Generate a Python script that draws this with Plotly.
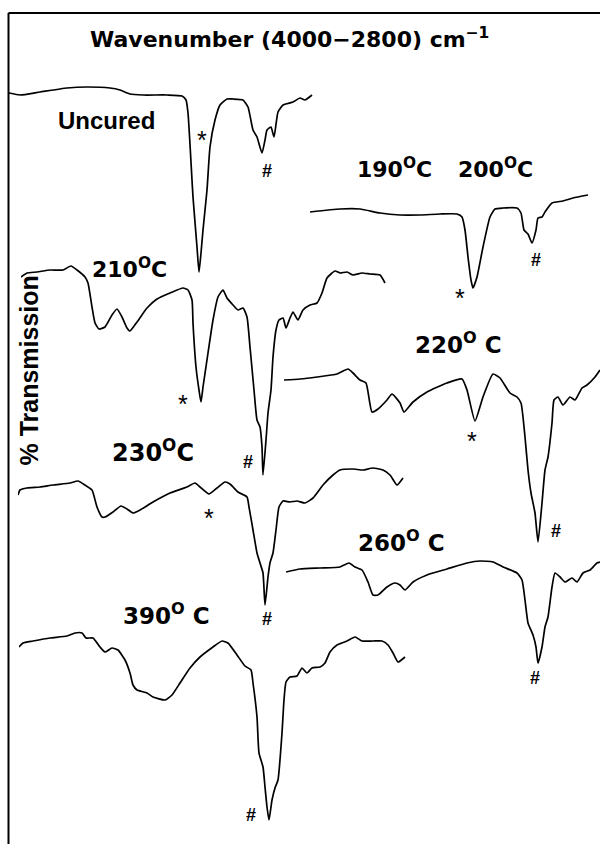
import plotly.graph_objects as go

W, H = 600, 844

# ---------------- data: wavenumber (cm-1) vs % transmission ----------------
uncured_wn = [4000, 3956, 3876, 3768, 3688, 3596, 3556, 3516, 3464, 3368, 3308, 3292, 3284, 3268,
              3264, 3248, 3240, 3232, 3224, 3208, 3196, 3176, 3156, 3128, 3104, 3064, 3044, 3024,
              3008, 2988, 2976, 2968, 2952, 2940, 2924, 2904, 2864, 2836, 2816, 2788]
uncured_t = [97.6, 96.8, 98, 99.6, 100, 99.6, 98.8, 97.2, 96.8, 96.8, 96.4, 94.8, 89.6, 62.8,
             56, 36, 26, 33.6, 42.8, 58.8, 76, 86.8, 92.8, 95.2, 95.2, 94.8, 92, 82.8,
             80, 73.6, 78.8, 82.8, 84, 80, 90, 92.8, 94, 95.6, 94.8, 96.8]

c190_wn = [4000, 3880, 3800, 3720, 3640, 3560, 3480, 3412, 3392, 3380, 3368, 3356, 3348, 3332,
           3308, 3280, 3260, 3228, 3172, 3156, 3144, 3128, 3112, 3096, 3088, 3072, 3060, 3032,
           2988, 2948, 2888]
c190_t = [93.2, 94.4, 94.4, 92.8, 92, 92, 92.4, 92.4, 91.2, 86, 75.2, 66, 62.8, 67.2,
          79.2, 91.2, 94.4, 94.8, 94.8, 92.8, 86, 84.4, 80.8, 86, 90.8, 91.2, 93.2, 96.8,
          97.6, 98.8, 100]

c210_wn = [4000, 3976, 3936, 3884, 3832, 3800, 3776, 3744, 3732, 3716, 3704, 3688, 3664, 3636,
           3616, 3596, 3576, 3564, 3536, 3496, 3456, 3404, 3352, 3332, 3316, 3312, 3300, 3288,
           3280, 3272, 3252, 3232, 3212, 3192, 3176, 3152, 3132, 3112, 3096, 3084, 3068, 3056,
           3044, 3036, 3032, 3020, 3012, 3000, 2992, 2980, 2968, 2952, 2940, 2924, 2912, 2892,
           2872, 2844, 2816, 2796, 2776, 2744, 2724, 2696, 2672, 2636, 2604, 2564, 2544]
c210_t = [95.6, 97.2, 97.6, 98.4, 98.4, 100, 98.4, 95.6, 93.2, 83.6, 77.2, 74.8, 75.6, 80.4,
          82.8, 79.6, 75.2, 74, 77.6, 83.2, 86.8, 89.2, 91.2, 90.4, 86.4, 77.2, 59.6, 50.4,
          45.6, 51.6, 65.2, 78.4, 87.6, 90.4, 87.2, 84.4, 82.4, 83.2, 79.6, 67.6, 50.4, 38.4,
          35.6, 27.6, 16.4, 30.4, 41.2, 50.4, 63.6, 74.4, 78.4, 79.2, 75.2, 79.2, 81.6, 78.4,
          82.4, 84.4, 85.2, 89.2, 95.2, 98, 97.2, 97.6, 96.4, 97.2, 96.8, 96.4, 93.2]

c220_wn = [4000, 3936, 3868, 3788, 3744, 3724, 3696, 3672, 3648, 3624, 3588, 3568, 3536, 3520,
           3484, 3428, 3348, 3288, 3268, 3236, 3204, 3164, 3136, 3096, 3068, 3052, 3036, 3024,
           3012, 2996, 2984, 2968, 2956, 2944, 2928, 2920, 2904, 2884, 2856, 2836, 2808, 2788,
           2756, 2736]
c220_t = [95.6, 96, 96.8, 98, 100, 98.4, 95.6, 94.4, 82.8, 84, 87.6, 90, 86.4, 82.8,
          86.8, 90.8, 94.4, 96, 91.6, 79.2, 88.8, 98, 96.4, 90.4, 88.8, 86.4, 72.8, 59.6,
          50.4, 42.4, 30.8, 46.4, 59.6, 64.8, 78.4, 87.6, 88.8, 85.6, 88.8, 87.6, 92.4, 93.6,
          96.8, 99.6]

c230_wn = [4000, 3992, 3964, 3912, 3860, 3792, 3760, 3732, 3704, 3684, 3664, 3652, 3620, 3588,
           3564, 3540, 3512, 3460, 3392, 3324, 3292, 3272, 3236, 3204, 3172, 3152, 3120, 3084,
           3076, 3060, 3044, 3032, 3020, 3012, 3000, 2992, 2980, 2968, 2956, 2940, 2912, 2884,
           2852, 2820, 2780, 2740, 2712, 2660, 2620, 2580, 2540, 2512, 2484, 2460]
c230_t = [89.2, 91.2, 92, 92.4, 93.2, 94, 94.8, 93.2, 91.2, 84.4, 80.4, 80.4, 82.4, 84.8,
          83.6, 82, 83.2, 86.4, 90, 92.4, 94, 92.4, 89.6, 92, 94.4, 93.6, 90.4, 88.4,
          84.4, 75.2, 66, 62, 58, 45.2, 56.4, 62, 66, 75.2, 84.4, 86.8, 86.4, 86.8,
          86, 88, 93.2, 97.2, 99.2, 99.6, 99.2, 100, 99.2, 97.2, 93.2, 96]

c260_wn = [4000, 3944, 3864, 3784, 3748, 3724, 3696, 3672, 3652, 3632, 3596, 3564, 3544, 3524,
           3492, 3436, 3356, 3276, 3224, 3172, 3132, 3076, 3056, 3044, 3032, 3012, 3000, 2992,
           2976, 2964, 2952, 2936, 2924, 2904, 2884, 2856, 2836, 2812, 2784, 2756, 2744]
c260_t = [95.6, 96.8, 97.2, 97.6, 99.2, 97.6, 96.4, 91.6, 86.4, 86.4, 89.6, 91.2, 90.4, 88.4,
          91.6, 94.4, 96.8, 99.2, 100, 99.6, 97.6, 95.2, 92.4, 84.4, 75.2, 70.4, 65.6, 59.2,
          65.6, 73.6, 77.6, 89.6, 95.2, 93.6, 91.6, 93.2, 91.6, 95.2, 96.4, 99.2, 99.6]

c390_wn = [4000, 3984, 3944, 3876, 3808, 3776, 3748, 3732, 3704, 3676, 3656, 3628, 3604, 3576,
           3556, 3544, 3528, 3488, 3464, 3416, 3388, 3356, 3316, 3276, 3224, 3188, 3164, 3128,
           3096, 3072, 3064, 3048, 3040, 3024, 3016, 3008, 3000, 2988, 2976, 2964, 2948, 2940,
           2932, 2916, 2888, 2868, 2848, 2828, 2796, 2776, 2756, 2728, 2688, 2656, 2628, 2584,
           2548, 2524, 2504, 2484, 2456]
c390_t = [94.4, 96, 96.8, 98, 98.8, 100, 100, 98, 98, 94.4, 92.4, 94, 93.2, 89.2,
          84, 79.2, 77.2, 76, 74.4, 73.2, 75.2, 80, 86, 90.4, 94.4, 96.8, 96, 91.2,
          86.8, 85.2, 80, 66.4, 52, 46.4, 38.4, 30.4, 25.2, 33.2, 38, 41.2, 60, 73.2,
          80.4, 82.4, 82.8, 86, 84, 86, 86.4, 88, 92.4, 95.2, 96.8, 98.4, 96.8, 96.8,
          96.8, 95.2, 92, 88.4, 90.4]

spectra = [
    ("Uncured", uncured_wn, uncured_t),
    ("190/200 °C", c190_wn, c190_t),
    ("210 °C", c210_wn, c210_t),
    ("220 °C", c220_wn, c220_t),
    ("230 °C", c230_wn, c230_t),
    ("260 °C", c260_wn, c260_t),
    ("390 °C", c390_wn, c390_t),
]

# ---------------- layout: pixel placement of each stacked spectrum ----------------
# (left pixel where 4000 cm-1 sits, pixel row of 100 %T)
panel_pos = [(9, 87), (310, 195), (21, 266), (284, 369), (18, 468), (286, 561), (19, 633)]
CM_PER_PX = 4.0
T_PER_PX = 0.4

fig = go.Figure()
layout_axes = {}
for i, ((name, wn, tr), (x0, ytop)) in enumerate(zip(spectra, panel_pos), start=1):
    sfx = "" if i == 1 else str(i)
    fig.add_trace(go.Scatter(x=wn, y=tr, mode="lines", name=name,
                             line=dict(color="black", width=1.7, shape="spline", smoothing=0.5),
                             xaxis="x" + sfx, yaxis="y" + sfx, showlegend=False,
                             hoverinfo="skip"))
    top_px = max(ytop - 20, 0)
    bot_px = min(ytop + 240, H)
    layout_axes["xaxis" + sfx] = dict(domain=[x0 / W, 1.0],
                                      range=[4000, 4000 - CM_PER_PX * (W - x0)],
                                      visible=False, anchor="y" + sfx, fixedrange=True)
    layout_axes["yaxis" + sfx] = dict(domain=[1 - bot_px / H, 1 - top_px / H],
                                      range=[100 - T_PER_PX * (bot_px - ytop),
                                             100 + T_PER_PX * (ytop - top_px)],
                                      visible=False, anchor="x" + sfx, fixedrange=True)

fig.update_layout(**layout_axes)

DV = "DejaVu Sans"
LS = "Liberation Sans, Arial, sans-serif"
annotations = []


def px(x):
    return x / W


def py(y):
    return 1 - y / H


def label(text, x_left, baseline, size, family=DV, weight="bold"):
    descent = 0.236 if family == DV else 0.212
    bottom = baseline + descent * size + 2
    annotations.append(dict(text=text, x=px(x_left - 2), y=py(bottom), xref="paper", yref="paper",
                            xanchor="left", yanchor="bottom", showarrow=False,
                            font=dict(family=family, size=size, color="black", weight=weight)))


def mark(sym, cx, cy, size, weight="normal"):
    shift = 0.2 * size if sym == "*" else 0
    annotations.append(dict(text=sym, x=px(cx), y=py(cy + shift), xref="paper", yref="paper",
                            xanchor="center", yanchor="middle", showarrow=False,
                            font=dict(family=LS, size=size, color="black", weight=weight)))


label("Wavenumber (4000\u22122800) cm<sup>\u22121</sup>", 90, 47, 22)
label("Uncured", 58, 129, 24, family=LS)
label("190<sup>O</sup>C", 357, 177, 22)
label("200<sup>O</sup>C", 458, 177, 22)
label("210<sup>O</sup>C", 92, 277, 22)
label("220<sup>O</sup> C", 415, 353, 23)
label("230<sup>O</sup>C", 112, 461, 24)
label("260<sup>O</sup> C", 358, 551, 23)
label("390<sup>O</sup> C", 123, 624, 23)

annotations.append(dict(text="% Transmission", x=px(28.5), y=py(371), xref="paper", yref="paper",
                        xanchor="center", yanchor="middle", showarrow=False, textangle=-90,
                        font=dict(family=LS, size=25, color="black", weight="bold")))

marks = [("*", 202, 135), ("#", 267, 171),
         ("*", 460, 293), ("#", 536, 260),
         ("*", 183, 399), ("#", 248, 462),
         ("*", 472, 436), ("#", 556, 531),
         ("*", 209, 513), ("#", 267, 619),
         ("#", 535, 678),
         ("#", 251, 815)]
for s, cx, cy in marks:
    if s == "*":
        mark(s, cx, cy, 25)
    else:
        mark(s, cx, cy, 18, weight="bold")

shapes = [
    dict(type="line", xref="paper", yref="paper", x0=px(8.5), x1=px(8.5), y0=py(13), y1=-0.01,
         line=dict(color="black", width=2)),
    dict(type="line", xref="paper", yref="paper", x0=px(8.5), x1=1.01, y0=py(13), y1=py(13),
         line=dict(color="black", width=2)),
]

fig.update_layout(width=W, height=H, margin=dict(l=0, r=0, t=0, b=0),
                  paper_bgcolor="white", plot_bgcolor="rgba(0,0,0,0)",
                  annotations=annotations, shapes=shapes, showlegend=False)

fig.write_html("out.html")
